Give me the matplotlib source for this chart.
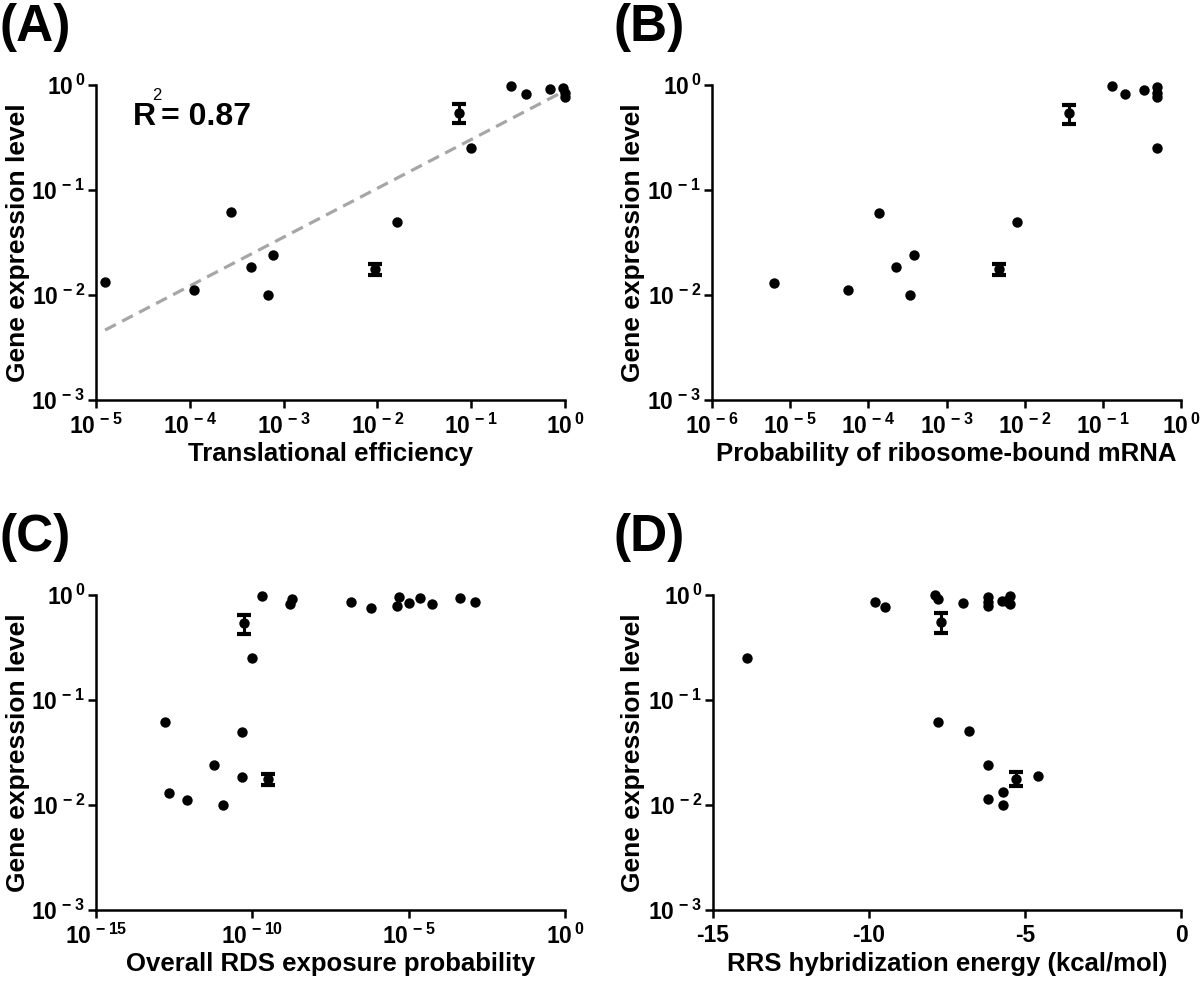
import numpy as np
import matplotlib
matplotlib.use("Agg")
import matplotlib.pyplot as plt
from matplotlib.ticker import FixedLocator, NullLocator

plt.rcParams['font.family'] = ['Liberation Sans', 'DejaVu Sans']
plt.rcParams['font.weight'] = 'bold'
plt.rcParams['mathtext.fontset'] = 'custom'
plt.rcParams['mathtext.rm'] = 'Liberation Sans:bold'
plt.rcParams['mathtext.bf'] = 'Liberation Sans:bold'
plt.rcParams['mathtext.it'] = 'Liberation Sans:bold'

# ---------------- data ----------------
# Panel A: translational efficiency vs expression
a_x = [1.25e-5, 1.11e-4, 2.73e-4, 4.53e-4, 7.64e-4, 6.87e-4, 0.0162, 0.0986,
       0.264, 0.380, 0.692, 0.96, 0.99, 1.0]
a_y = [0.0132, 0.0112, 0.0612, 0.0186, 0.0240, 0.0101, 0.0499, 0.251,
       0.986, 0.820, 0.910, 0.929, 0.834, 0.764]
a_err_x = [9.42e-3, 0.0746]
a_err_y = [0.0175, 0.545]
a_err_lo = [0.0155, 0.431]
a_err_hi = [0.0197, 0.655]
fit_slope = 0.465
fit_intercept = -0.054
r2_text = "0.87"

# Panel B: probability of ribosome-bound mRNA
b_x = [6.27e-6, 5.53e-5, 1.36e-4, 2.27e-4, 3.82e-4, 3.43e-4, 8.07e-3,
       0.131, 0.190, 0.339, 0.498, 0.50, 0.50, 0.49]
b_y = [0.0131, 0.0112, 0.0608, 0.0185, 0.0239, 0.0100, 0.0495,
       0.977, 0.815, 0.904, 0.95, 0.834, 0.764, 0.249]
b_err_x = [4.71e-3, 0.0373]
b_err_y = [0.0175, 0.537]
b_err_lo = [0.0155, 0.425]
b_err_hi = [0.0197, 0.650]

# Panel C: overall RDS exposure probability
c_x = [1.58e-13, 2.19e-13, 8.3e-13, 1.17e-11, 5.75e-12, 4.68e-11, 4.79e-11,
       9.55e-11, 2.0e-10, 1.58e-9, 1.9e-9, 1.45e-7, 6.3e-7, 4.17e-6, 4.9e-6,
       1.05e-5, 2.29e-5, 5.75e-5, 4.37e-4, 1.32e-3]
c_y = [0.0612, 0.0131, 0.0112, 0.0101, 0.0239, 0.0186, 0.0495,
       0.249, 0.977, 0.815, 0.91, 0.851, 0.757, 0.78, 0.964,
       0.845, 0.944, 0.815, 0.944, 0.865]
c_err_x = [5.5e-11, 3.24e-10]
c_err_y = [0.537, 0.0175]
c_err_lo = [0.425, 0.0155]
c_err_hi = [0.650, 0.0197]

# Panel D: RRS hybridization energy
d_x = [-13.90, -9.80, -9.50, -7.90, -7.79, -6.99, -6.19, -6.19, -6.19,
       -5.75, -5.62, -5.48, -5.48, -7.80, -6.79, -6.19, -4.59, -5.69, -6.19, -5.69]
d_y = [0.253, 0.851, 0.774, 1.0, 0.916, 0.834, 0.964, 0.865, 0.785,
       0.877, 0.87, 0.977, 0.826, 0.0617, 0.0504, 0.0242, 0.0188, 0.0133, 0.0113, 0.0101]
d_err_x = [-7.70, -5.28]
d_err_y = [0.55, 0.0177]
d_err_lo = [0.438, 0.0152]
d_err_hi = [0.668, 0.0204]

y_ticks = [1e-3, 1e-2, 1e-1, 1e0]
y_ticklabels = [r'$10^{\,-3}$', r'$10^{\,-2}$', r'$10^{\,-1}$', r'$10^{\,0}$']

panels = [
    dict(label='(A)', x=a_x, y=a_y, ex=a_err_x, ey=a_err_y, elo=a_err_lo, ehi=a_err_hi,
         xlim=(1e-5, 1e0), xlog=True,
         xticks=[1e-5, 1e-4, 1e-3, 1e-2, 1e-1, 1e0],
         xticklabels=[r'$10^{\,-5}$', r'$10^{\,-4}$', r'$10^{\,-3}$', r'$10^{\,-2}$', r'$10^{\,-1}$', r'$10^{\,0}$'],
         xlabel='Translational efficiency', rect_px=(96, 85, 565, 400)),
    dict(label='(B)', x=b_x, y=b_y, ex=b_err_x, ey=b_err_y, elo=b_err_lo, ehi=b_err_hi,
         xlim=(1e-6, 1e0), xlog=True,
         xticks=[1e-6, 1e-5, 1e-4, 1e-3, 1e-2, 1e-1, 1e0],
         xticklabels=[r'$10^{\,-6}$', r'$10^{\,-5}$', r'$10^{\,-4}$', r'$10^{\,-3}$', r'$10^{\,-2}$', r'$10^{\,-1}$', r'$10^{\,0}$'],
         xlabel='Probability of ribosome-bound mRNA', rect_px=(712, 85, 1181, 400)),
    dict(label='(C)', x=c_x, y=c_y, ex=c_err_x, ey=c_err_y, elo=c_err_lo, ehi=c_err_hi,
         xlim=(1e-15, 1e0), xlog=True,
         xticks=[1e-15, 1e-10, 1e-5, 1e0],
         xticklabels=[r'$10^{\,-15}$', r'$10^{\,-10}$', r'$10^{\,-5}$', r'$10^{\,0}$'],
         xlabel='Overall RDS exposure probability', rect_px=(96, 595, 565, 910)),
    dict(label='(D)', x=d_x, y=d_y, ex=d_err_x, ey=d_err_y, elo=d_err_lo, ehi=d_err_hi,
         xlim=(-15, 0), xlog=False,
         xticks=[-15, -10, -5, 0],
         xticklabels=['-15', '-10', '-5', '0'],
         xlabel='RRS hybridization energy (kcal/mol)', rect_px=(713, 595, 1181, 910)),
]

W, H = 1200, 984
fig = plt.figure(figsize=(W / 100, H / 100), dpi=100)

axes = []
for p in panels:
    l, t, r, b = p['rect_px']
    ax = fig.add_axes([l / W, 1 - b / H, (r - l) / W, (b - t) / H])
    axes.append(ax)
    if p['xlog']:
        ax.set_xscale('log')
    ax.set_yscale('log')
    ax.set_xlim(*p['xlim'])
    ax.set_ylim(1e-3, 1e0)
    ax.xaxis.set_major_locator(FixedLocator(p['xticks']))
    ax.xaxis.set_minor_locator(NullLocator())
    ax.yaxis.set_major_locator(FixedLocator(y_ticks))
    ax.yaxis.set_minor_locator(NullLocator())
    ax.set_xticklabels(p['xticklabels'])
    ax.set_yticklabels(y_ticklabels)
    for s in ['top', 'right']:
        ax.spines[s].set_visible(False)
    for s in ['left', 'bottom']:
        ax.spines[s].set_linewidth(1.8)
    ax.tick_params(axis='both', which='major', direction='out', length=6, width=1.8,
                   labelsize=16.5)
    ax.tick_params(axis='x', pad=4)
    ax.tick_params(axis='y', pad=2)
    ax.scatter(p['x'], p['y'], s=56, color='black', zorder=3, clip_on=False, linewidths=0)
    yerr = [np.array(p['ey']) - np.array(p['elo']), np.array(p['ehi']) - np.array(p['ey'])]
    ax.errorbar(p['ex'], p['ey'], yerr=yerr, fmt='none', ecolor='black',
                elinewidth=2.2, capsize=4.8, capthick=3.0, zorder=4)
    ax.scatter(p['ex'], p['ey'], s=56, color='black', zorder=5, linewidths=0)
    ax.set_xlabel(p['xlabel'], fontsize=18.5, fontweight='bold')
    ax.set_ylabel('Gene expression level', fontsize=19, fontweight='bold')
    ax.xaxis.label.set_va('center')
    ax.yaxis.label.set_va('center')
    ax.xaxis.set_label_coords(0.5, -(454 - 400) / 315)
    ylab_x = 18 if l < 300 else 633
    ax.yaxis.set_label_coords((ylab_x - l) / (r - l), 0.5)
    fig.text((0 if l < 300 else 613) / W, 1 - (t - 85 + 3) / H, p['label'], fontsize=37,
             fontweight='bold', ha='left', va='top')

# regression line in panel A
axA = axes[0]
lx = np.array([min(a_x + a_err_x), max(a_x + a_err_x)])
ly = 10 ** (fit_intercept + fit_slope * np.log10(lx))
axA.plot(lx, ly, linestyle=(0, (3.8, 2.2)), color='#a6a6a6', linewidth=2.3, zorder=2)

# R^2 annotation
axA.text((133 - 96) / 469, 1 - (125 - 85) / 315, 'R', transform=axA.transAxes,
         fontsize=23, fontweight='bold', ha='left', va='baseline')
axA.text((152 - 96) / 469, 1 - (100 - 85) / 315, '2', transform=axA.transAxes,
         fontsize=12, fontweight='normal', ha='left', va='baseline')
axA.text((161 - 96) / 469, 1 - (125 - 85) / 315, '= ' + r2_text, transform=axA.transAxes,
         fontsize=23, fontweight='bold', ha='left', va='baseline')

fig.savefig('out.png', dpi=100)
